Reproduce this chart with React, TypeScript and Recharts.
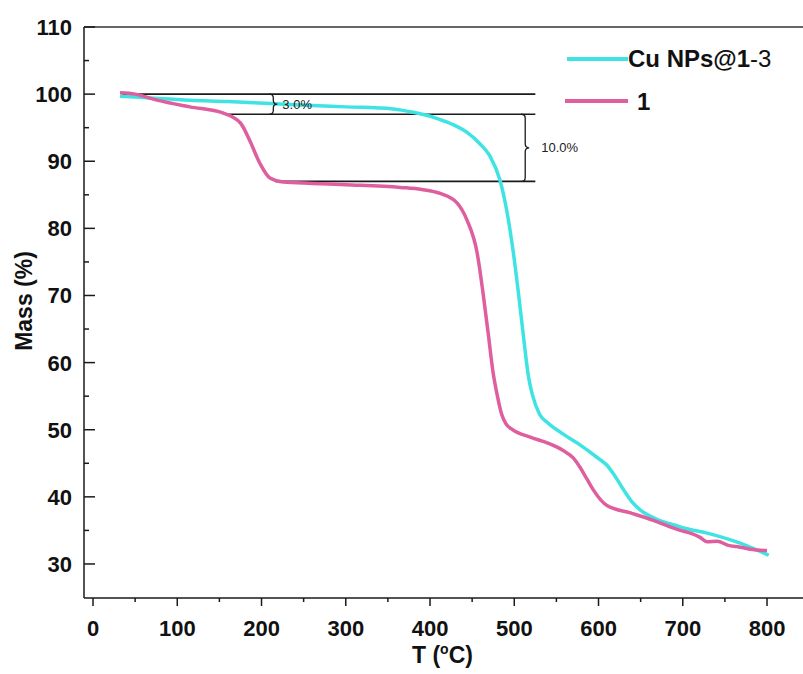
import React from 'react';
import { LineChart, Line, XAxis, YAxis, ReferenceLine, Legend } from 'recharts';

// ---- data ----
const cuTemps = [32, 60, 115, 160, 210, 260, 300, 356, 380, 408, 430, 444, 460, 471, 483, 491, 499, 505, 511, 517, 522, 530, 540, 555, 575, 598, 610, 620, 630, 640, 650, 660, 672, 685, 700, 729, 768, 802];
const cuMass = [99.7, 99.5, 99.1, 98.9, 98.6, 98.3, 98.1, 97.8, 97.3, 96.4, 95.3, 94.3, 92.5, 90.8, 87.2, 82.7, 76.3, 70.3, 63.8, 57.8, 55.0, 52.3, 51.0, 49.6, 48.0, 45.9, 44.7, 43.0, 41.0, 39.2, 38.0, 37.2, 36.5, 36.0, 35.4, 34.6, 33.1, 31.3];

const s1Temps = [32, 50, 76, 115, 154, 175, 186, 198, 210, 226, 260, 300, 365, 390, 412, 432, 444, 456, 463, 469, 475, 480, 485, 490, 498, 519, 540, 558, 570, 578, 586, 594, 610, 638, 665, 697, 709, 720, 729, 741, 753, 768, 780, 800];
const s1Mass = [100.2, 100.0, 99.1, 98.1, 97.2, 95.7, 93.1, 89.7, 87.5, 86.9, 86.7, 86.5, 86.1, 85.8, 85.2, 83.8, 81.2, 76.3, 70.3, 64.4, 58.4, 55.0, 52.3, 50.9, 50.0, 48.9, 48.0, 46.9, 45.8, 44.4, 42.7, 41.0, 38.7, 37.6, 36.5, 35.0, 34.6, 34.0, 33.3, 33.4, 32.8, 32.5, 32.2, 32.0];

const seriesNames = ['Cu NPs@1-3', '1'];
const xTicks = [0, 50, 100, 150, 200, 250, 300, 350, 400, 450, 500, 550, 600, 650, 700, 750, 800];
const yTicks = [30, 35, 40, 45, 50, 55, 60, 65, 70, 75, 80, 85, 90, 95, 100, 105, 110];

// annotation levels (mass %)
const stepLevels = [100, 97, 87];
const stepStarts = [35, 157, 216];
const stepEnd = 525;
const braces = [
  { t: 214, from: 100, to: 97, label: '3.0%', gap: 9 },
  { t: 513, from: 97, to: 87, label: '10.0%', gap: 16 },
];

const cuData = cuTemps.map((t, i) => ({ t, m: cuMass[i] }));
const s1Data = s1Temps.map((t, i) => ({ t, m: s1Mass[i] }));

const CYAN = '#3FE3E3';
const PINK = '#DE5E9E';
const INK = '#1a1a1a';
const FONT = '"Liberation Sans", Arial, Helvetica, sans-serif';

const XTick = (props: any) => {
  const { x, y, payload } = props;
  const major = payload.value % 100 === 0;
  return (
    <g>
      <line x1={x} x2={x} y1={y} y2={y + (major ? 8 : 4)} stroke={INK} strokeWidth={1.5} />
      {major && (
        <text x={x} y={y + 38} textAnchor="middle" fontFamily={FONT} fontWeight="bold" fontSize={22} fill="#111">
          {payload.value}
        </text>
      )}
    </g>
  );
};

const YTick = (props: any) => {
  const { x, y, payload } = props;
  const major = payload.value % 10 === 0;
  return (
    <g>
      <line x1={x} x2={x + (major ? 11 : 5)} y1={y} y2={y} stroke={INK} strokeWidth={1.5} />
      {major && (
        <text x={x - 12} y={y} dy="0.36em" textAnchor="end" fontFamily={FONT} fontWeight="bold" fontSize={22} fill="#111">
          {payload.value}
        </text>
      )}
    </g>
  );
};

const makeBrace = (label: string, gap: number) => (props: any) => {
  const { x1, y1, y2 } = props;
  const x = x1;
  const top = Math.min(y1, y2);
  const bot = Math.max(y1, y2);
  const mid = (top + bot) / 2;
  const r = 4;
  const d = `M ${x - r} ${top} Q ${x} ${top} ${x} ${top + r} L ${x} ${mid - r} Q ${x} ${mid} ${x + r} ${mid} Q ${x} ${mid} ${x} ${mid + r} L ${x} ${bot - r} Q ${x} ${bot} ${x - r} ${bot}`;
  return (
    <g>
      <path d={d} fill="none" stroke={INK} strokeWidth={1.3} />
      <text x={x + gap} y={mid} dy="0.36em" fontFamily={FONT} fontSize={13} fill="#222">
        {label}
      </text>
    </g>
  );
};

const LegendContent = (props: any) => {
  const payload = props.payload || [];
  const colorOf = (name: string, fallback: string) => {
    const p = payload.find((e: any) => e.value === name);
    return p ? p.color : fallback;
  };
  return (
    <svg width={240} height={80} style={{ display: 'block' }}>
      <line x1={7} x2={68} y1={19} y2={19} stroke={colorOf(seriesNames[0], CYAN)} strokeWidth={4} />
      <text x={68} y={27} fontFamily={FONT} fontSize={24} fill="#111">
        <tspan fontWeight="bold">Cu NPs@1</tspan>
        <tspan fontWeight="normal">-3</tspan>
      </text>
      <line x1={5} x2={68} y1={61} y2={61} stroke={colorOf(seriesNames[1], PINK)} strokeWidth={4} />
      <text x={77} y={70} fontFamily={FONT} fontSize={24} fontWeight="bold" fill="#111">
        {seriesNames[1]}
      </text>
    </svg>
  );
};

export default function App() {
  return (
    <div style={{ position: 'absolute', left: 0, top: 0, width: 803, height: 674, background: '#fff' }}>
      <LineChart width={803} height={674} margin={{ top: 27, right: 0, bottom: 0, left: 0 }}>
        <XAxis
          dataKey="t"
          type="number"
          domain={[-10.7, 842.7]}
          allowDataOverflow
          ticks={xTicks}
          interval={0}
          tickSize={0}
          tickMargin={0}
          tickLine={false}
          height={76}
          axisLine={{ stroke: INK, strokeWidth: 1.5 }}
          tick={<XTick />}
          label={{
            content: () => (
              <text x={412} y={663} fontFamily={FONT} fontWeight="bold" fontSize={23} fill="#111">
                T (<tspan fontSize={14} dy={-9}>o</tspan>
                <tspan dy={9}>C)</tspan>
              </text>
            ),
          }}
        />
        <YAxis
          type="number"
          domain={[24.93, 110]}
          allowDataOverflow
          ticks={yTicks}
          interval={0}
          tickSize={0}
          tickMargin={0}
          tickLine={false}
          width={84}
          axisLine={{ stroke: INK, strokeWidth: 1.5 }}
          tick={<YTick />}
          label={{
            content: () => (
              <text
                x={32}
                y={301}
                transform="rotate(-90, 32, 301)"
                textAnchor="middle"
                fontFamily={FONT}
                fontWeight="bold"
                fontSize={23}
                fill="#111"
              >
                Mass (%)
              </text>
            ),
          }}
        />
        <ReferenceLine y={110} stroke="#333" strokeWidth={1.5} />
        {stepLevels.map((lv, i) => (
          <ReferenceLine
            key={'s' + i}
            segment={[{ x: stepStarts[i], y: lv }, { x: stepEnd, y: lv }]}
            stroke={INK}
            strokeWidth={1.6}
          />
        ))}
        <Line
          data={cuData}
          dataKey="m"
          name={seriesNames[0]}
          type="monotone"
          stroke={CYAN}
          strokeWidth={3.5}
          dot={false}
          activeDot={false}
          isAnimationActive={false}
        />
        <Line
          data={s1Data}
          dataKey="m"
          name={seriesNames[1]}
          type="monotone"
          stroke={PINK}
          strokeWidth={3.5}
          dot={false}
          activeDot={false}
          isAnimationActive={false}
        />
        {braces.map((b, i) => (
          <ReferenceLine
            key={'b' + i}
            segment={[{ x: b.t, y: b.from }, { x: b.t, y: b.to }]}
            stroke={INK}
            shape={makeBrace(b.label, b.gap)}
          />
        ))}
        <Legend
          layout="horizontal"
          verticalAlign="middle"
          align="center"
          wrapperStyle={{ position: 'absolute', left: 560, top: 40, width: 240, height: 80 }}
          content={<LegendContent />}
        />
      </LineChart>
    </div>
  );
}
